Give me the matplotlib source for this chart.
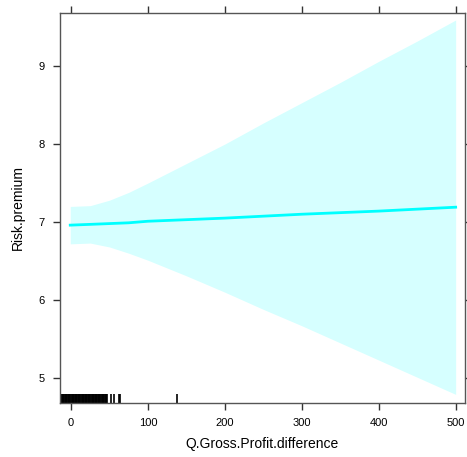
import matplotlib
matplotlib.use('Agg')
import matplotlib.pyplot as plt

plt.rcParams['font.family'] = ['Liberation Sans', 'DejaVu Sans']

# effect of Q.Gross.Profit.difference on Risk.premium
x_vals = [-1, 25, 50, 75, 100, 150, 200, 250, 300, 350, 400, 450, 500]
fit = [6.96, 6.97, 6.98, 6.99, 7.01, 7.03, 7.05, 7.075, 7.10, 7.12, 7.14, 7.165, 7.19]
upper = [7.20, 7.21, 7.28, 7.38, 7.50, 7.75, 8.00, 8.27, 8.53, 8.79, 9.06, 9.32, 9.59]
lower = [6.72, 6.73, 6.68, 6.60, 6.51, 6.31, 6.10, 5.88, 5.67, 5.45, 5.23, 5.01, 4.79]

# rug of observed x values
rug = [-15, -14, -13, -12, -11, -10, -9, -8, -7, -6, -5, -4, -3, -2, -1, 0,
       1, 2, 3, 4, 5, 6, 7, 8, 9, 10, 11, 12, 13, 14, 15, 16, 17, 18, 19,
       20, 21, 22, 23, 24, 25, 26, 27, 28, 29, 30, 31, 32, 33, 34, 35, 36,
       37, 38, 39, 40, 41, 42, 43, 44, 45, 46, 47, 52, 56, 63, 64, 138]

x_ticks = [0, 100, 200, 300, 400, 500]
y_ticks = [5, 6, 7, 8, 9]

fig = plt.figure(figsize=(4.67, 4.57), dpi=100)
ax = fig.add_axes([0.1285, 0.1182, 0.867, 0.8534])

ax.fill_between(x_vals, lower, upper, color='#d6ffff', linewidth=0)
ax.plot(x_vals, fit, color='#00ffff', linewidth=2)
ax.vlines(rug, 0, 0.023, transform=ax.get_xaxis_transform(), color='black', linewidth=1.2)

ax.set_xlim(-14.3, 512)
ax.set_ylim(4.68, 9.68)
ax.set_xticks(x_ticks)
ax.set_yticks(y_ticks)

for sp in ax.spines.values():
    sp.set_color('#555555')
    sp.set_linewidth(1)

ax.tick_params(direction='out', length=5, width=1, color='#333333',
               labelsize=8, top=True, right=True, pad=6)
ax.set_xlabel('Q.Gross.Profit.difference', fontsize=10, labelpad=6)
ax.set_ylabel('Risk.premium', fontsize=10, labelpad=10)

fig.savefig('out.png', dpi=100)
